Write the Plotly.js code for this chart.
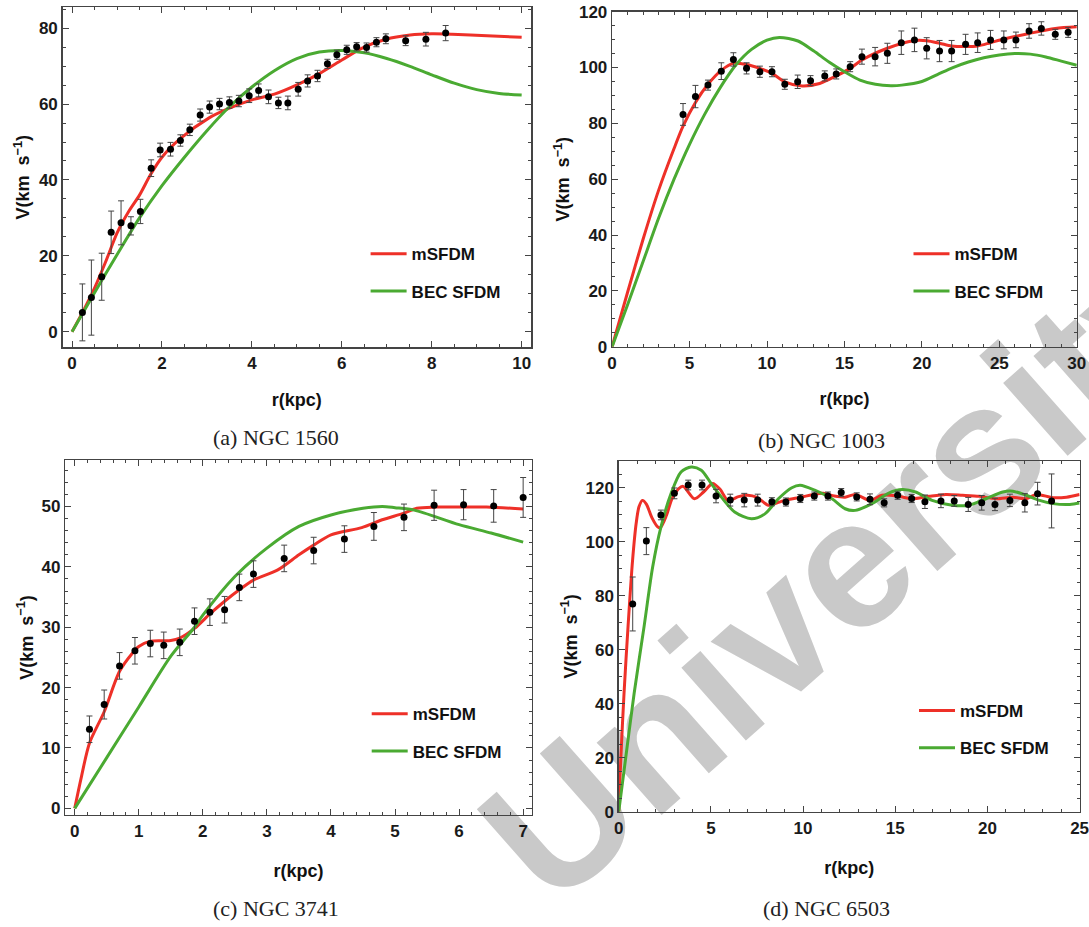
<!DOCTYPE html>
<html>
<head>
<meta charset="utf-8">
<script src="https://cdn.plot.ly/plotly-3.0.1.min.js"></script>
<style>html,body{margin:0;padding:0;background:#fff}#chart{width:1089px;height:927px}</style>
</head>
<body>
<div id="chart"></div>
<script>
// ---------------- Data: (a) NGC 1560 ----------------
const rA = [0.23,0.43,0.66,0.87,1.09,1.31,1.52,1.76,1.96,2.19,2.41,2.62,2.85,3.06,3.28,3.50,3.71,3.94,4.15,4.37,4.59,4.80,5.03,5.24,5.46,5.68,5.89,6.11,6.33,6.55,6.77,6.98,7.42,7.87,8.31];
const vA = [5.1,9.0,14.5,26.2,28.7,27.9,31.7,43.1,47.9,48.1,50.4,53.2,57.1,59.2,60.0,60.4,60.8,62.2,63.6,61.9,60.3,60.3,63.9,66.1,67.4,70.6,73.0,74.3,75.1,74.9,76.3,77.2,76.7,77.1,78.7];
const eA = [7.5,9.9,6.2,5.6,5.8,2.4,3.2,2.2,1.8,1.8,1.5,1.5,1.6,1.6,1.5,1.5,1.5,1.8,1.7,1.8,1.5,1.8,1.8,1.6,1.5,1.2,1.2,1.2,1.1,1.2,1.2,1.3,1.3,1.8,2.0];
const mA_r = [0,0.25,0.5,0.75,1.0,1.25,1.5,1.75,2.0,2.42,3.04,3.5,4.0,4.5,5.05,5.51,6.0,6.44,6.98,7.52,8.0,8.45,9.23,10];
const mA_v = [0,5.5,11.5,18.5,26,31.5,36,41.5,46,51,56.3,58.9,61.1,62.6,65.3,68.1,71.6,74.7,77.1,78.2,78.5,78.4,78.0,77.6];
const gA_r = [0,0.5,1,1.5,2,2.5,3,3.5,4,4.5,5,5.5,6,6.5,7,7.5,8,8.5,9,9.5,10];
const gA_v = [0,10.3,20.3,30,38.5,46,53,59.3,64.5,68.8,72,73.7,74.1,73.5,72,70,67.7,65.5,63.8,62.8,62.4];

// ---------------- Data: (b) NGC 1003 ----------------
const rB = [4.58,5.38,6.19,7.05,7.83,8.68,9.54,10.32,11.15,11.98,12.81,13.73,14.47,15.37,16.13,16.98,17.77,18.67,19.52,20.31,21.14,21.92,22.82,23.60,24.43,25.29,26.07,26.92,27.71,28.61,29.44];
const vB = [83.2,89.6,93.7,98.7,102.9,99.7,98.5,98.5,94.0,94.9,95.3,97.0,97.7,100.3,103.9,103.9,105.1,108.9,109.9,106.9,105.9,105.9,108.3,108.9,109.9,109.9,109.9,113.1,114.0,111.9,112.6];
const eB = [3.9,4.0,1.8,3.0,2.4,2.0,2.0,1.8,1.8,2.4,1.8,1.8,1.8,1.8,2.7,3.3,3.6,4.2,4.2,3.8,3.8,3.8,3.6,3.5,3.4,3.2,2.8,2.6,2.4,1.8,1.8];
const mB_r = [0,1,2,3,4,4.58,5.38,6.19,7.05,7.83,8.68,9.54,10.32,11.15,12.27,13.4,14.47,15.37,16.13,17.77,19.45,20.31,21.14,21.92,22.82,23.6,24.43,25.29,26.92,28.61,30];
const mB_v = [0,19.5,38.5,56,71,79,87.5,94,99,101.5,101.1,99.7,97.9,94.9,93.4,94.3,97,99.7,102.7,106.9,109.6,109.6,108.7,107.7,107.5,107.7,108.9,110.2,112.2,114.0,114.6];
const gB_r = [0,1,2,3,4,5,6,7,8,9,10,10.8,12,13,14,15,16,17,18,18.7,20,21,22,23,24,25,26,27,28,29,30];
const gB_v = [0,15,30.5,46,60,72.5,83.5,93,101,106.5,109.8,110.8,109.5,106,102,98.5,95.5,94,93.5,93.7,95,97.5,100,102,103.5,104.5,105,104.8,103.8,102.3,100.8];

// ---------------- Data: (c) NGC 3741 ----------------
const rC = [0.23,0.46,0.70,0.94,1.18,1.39,1.64,1.87,2.11,2.34,2.57,2.79,3.27,3.73,4.21,4.67,5.14,5.61,6.07,6.54,7.0];
const vC = [13.1,17.2,23.6,26.1,27.3,27.0,27.5,31.0,32.5,32.9,36.6,38.8,41.4,42.7,44.6,46.7,48.2,50.2,50.3,50.1,51.5];
const eC = [2.2,2.4,2.2,2.2,2.2,2.2,2.2,2.2,2.2,2.2,2.2,2.2,2.2,2.2,2.2,2.3,2.2,2.5,2.5,2.7,3.3];
const mC_r = [0,0.1,0.23,0.46,0.7,0.9,1.0,1.18,1.5,1.64,1.87,2.11,2.34,2.57,2.79,3.17,3.5,3.73,4.0,4.48,4.8,5.14,5.34,5.62,6.0,6.43,7.0];
const mC_v = [0,5,10.8,16,22.7,25.7,26.8,27.7,27.8,28.2,29.8,32.2,34.3,36.2,37.8,39.5,42,43.6,45.3,46.5,47.8,48.9,49.7,49.9,49.9,49.9,49.6];
const gC_r = [0,0.5,1,1.5,1.87,2,2.5,3,3.5,4,4.5,4.8,5,5.3,6,6.5,7];
const gC_v = [0,8.4,16.8,25.2,30,32,38.4,43.1,46.7,48.6,49.7,50,49.8,49.4,47,45.6,44.1];

// ---------------- Data: (d) NGC 6503 ----------------
const rD = [0.76,1.50,2.29,3.02,3.77,4.52,5.28,6.05,6.81,7.54,8.31,9.07,9.85,10.61,11.35,12.07,12.91,13.63,14.40,15.13,15.89,16.61,17.48,18.20,18.96,19.69,20.41,21.22,22.03,22.72,23.48];
const vD = [77.0,100.3,110.0,118.0,121.1,121.1,117.0,115.5,115.5,115.5,114.9,114.8,116.1,117.0,117.0,118.3,116.7,115.8,114.5,117.3,116.1,114.9,115.2,115.2,113.9,114.5,113.9,115.4,114.5,117.9,115.2];
const eD = [10,5,1.8,2,1.8,1.8,2.5,2.2,2.5,2.2,1.5,1.5,1.5,1.5,1.5,1.5,1.5,2,1.5,1.5,1.5,2.5,2.5,2,2.6,2.7,2.3,2.3,3.4,4.2,10];
const mD_r = [0,0.11,0.29,0.51,0.75,0.95,1.1,1.29,1.5,1.8,2.1,2.26,2.6,2.93,3.47,4.11,4.6,5.1,5.5,5.93,6.5,7.0,7.5,8.12,8.6,9.0,9.9,10.5,11.1,11.7,12.28,12.83,13.65,14.28,15.19,15.92,16.83,17.74,18.65,19.56,20.47,21.38,22.1,22.65,23.56,24.29,25];
const mD_v = [0,19,44,69,93,107,113,115.4,114,109,105.7,105.3,110,116.6,120.6,116,118.5,121.7,119.5,115.4,116.8,117.3,116.5,113.6,114.5,115.4,116.6,117.5,118,117,116.6,117.6,115.4,117.3,116.9,116,116.9,117.6,117.3,116.9,116,116.6,116,117.6,116.4,116.6,117.6];
const gD_r = [0,0.4,0.84,1.38,1.84,2.29,2.84,3.38,3.93,4.48,5.02,5.57,6.29,7.2,7.93,8.66,9.39,9.84,10.66,11.57,12.28,12.83,13.74,14.65,15.38,16.1,17.0,18.1,19.0,19.92,20.83,21.38,22.1,22.83,23.56,24.47,25];
const gD_v = [0,21,44,68.8,90.6,105.5,117.9,125.9,127.8,126.6,121.6,116.6,111.1,108.6,110.4,116,120.1,121,119.1,116,112.3,111.7,114.2,118.1,119.4,118.5,115.4,113.6,113.6,116,118.5,118.8,117.3,115.4,114.2,113.9,114.4];

// ---------------- Labels ----------------
const seriesNames = ['mSFDM', 'BEC SFDM'];
const captions = ['(a) NGC 1560', '(b) NGC 1003', '(c) NGC 3741', '(d) NGC 6503'];
const xTitle = 'r(kpc)';
const yTitle = 'V(km\u00A0 s<sup>\u22121</sup>)';
const watermark = 'University';

// ---------------- Styling ----------------
const W = 1089, H = 927;
const SANS = 'Liberation Sans, Arial, sans-serif';
const SERIF = 'Liberation Serif, Times New Roman, serif';
const RED = 'rgb(238,48,40)';
const GREEN = 'rgb(74,170,50)';
const FRAME = '#444';

const panels = [
  {id:'', data:[rA,vA,eA], m:[mA_r,mA_v], g:[gA_r,gA_v], leg:'legend',
   px:[62.6,531.1], py:[7.3,347.3], xr:[-0.21,10.21], yr:[-4.1,85.5], xd:2, xm:0.5, yd:20, ym:5,
   legPos:[373.6,253.3], cap:[276,437], xs:21, ys:4},
  {id:'2', data:[rB,vB,eB], m:[mB_r,mB_v], g:[gB_r,gB_v], leg:'legend2',
   px:[612.1,1076.8], py:[11.7,346.7], xr:[0,30], yr:[0,120], xd:5, xm:1, yd:20, ym:5,
   legPos:[916.5,253.3], cap:[821,440], xs:21, ys:4},
  {id:'3', data:[rC,vC,eC], m:[mC_r,mC_v], g:[gC_r,gC_v], leg:'legend3',
   px:[65.3,531.8], py:[460,815], xr:[-0.147,7.135], yr:[-1.1,57.7], xd:1, xm:0.2, yd:10, ym:2,
   legPos:[374.7,713.3], cap:[276,908], xs:24, ys:3},
  {id:'4', data:[rD,vD,eD], m:[mD_r,mD_v], g:[gD_r,gD_v], leg:'legend4',
   px:[618.7,1079.6], py:[461,811.7], xr:[0,25], yr:[0,130], xd:5, xm:1, yd:20, ym:5,
   legPos:[922,710], cap:[826,908], xs:25, ys:3}
];

const traces = [];
const layout = {
  width: W, height: H,
  margin: {l:0, r:0, t:0, b:0},
  paper_bgcolor: '#fff', plot_bgcolor: 'rgba(0,0,0,0)',
  showlegend: true,
  annotations: [],
  shapes: [],
  font: {family: SANS, color: '#111'}
};

function axisCommon(range, dtick, mdtick) {
  return {
    range: range, dtick: dtick, tick0: 0, autorange: false,
    showgrid: false, zeroline: false,
    showline: true, linecolor: FRAME, linewidth: 1.4, mirror: 'allticks',
    ticks: 'inside', ticklen: 6, tickwidth: 1, tickcolor: FRAME,
    ticklabeloverflow: 'allow',
    tickfont: {family: SANS, size: 17, weight: 'bold', color: '#1a1a1a'},
    minor: {dtick: mdtick, tick0: 0, ticks: 'inside', ticklen: 3, tickwidth: 1, tickcolor: FRAME, showgrid: false},
    fixedrange: true
  };
}

panels.forEach((p, i) => {
  const xa = 'x' + p.id, ya = 'y' + p.id;
  const xKey = 'xaxis' + p.id, yKey = 'yaxis' + p.id;
  layout[xKey] = Object.assign(axisCommon(p.xr, p.xd, p.xm), {
    domain: [p.px[0] / W, p.px[1] / W], anchor: ya,
    title: {text: xTitle, font: {family: SANS, size: 18, weight: 'bold', color: '#111'}, standoff: p.xs}
  });
  layout[yKey] = Object.assign(axisCommon(p.yr, p.yd, p.ym), {
    domain: [1 - p.py[1] / H, 1 - p.py[0] / H], anchor: xa,
    title: {text: yTitle, font: {family: SANS, size: 18, weight: 'bold', color: '#111'}, standoff: p.ys}
  });

  traces.push({
    type: 'scatter', mode: 'lines', x: p.m[0], y: p.m[1], xaxis: xa, yaxis: ya,
    name: seriesNames[0], legend: p.leg, legendgroup: 'm' + i,
    line: {color: RED, width: 3, shape: 'spline', smoothing: 0.8}
  });
  traces.push({
    type: 'scatter', mode: 'lines', x: p.g[0], y: p.g[1], xaxis: xa, yaxis: ya,
    name: seriesNames[1], legend: p.leg, legendgroup: 'g' + i,
    line: {color: GREEN, width: 3, shape: 'spline', smoothing: 0.8}
  });
  traces.push({
    type: 'scatter', mode: 'markers', x: p.data[0], y: p.data[1], xaxis: xa, yaxis: ya,
    showlegend: false, name: 'data',
    marker: {color: '#000', size: 7},
    error_y: {type: 'data', array: p.data[2], visible: true, color: '#444', thickness: 1, width: 3}
  });

  layout[p.leg] = {
    x: (p.legPos[0] - 8) / W, y: 1 - (p.legPos[1] - 17) / H,
    xanchor: 'left', yanchor: 'top',
    bgcolor: 'rgba(0,0,0,0)', borderwidth: 0,
    tracegroupgap: 12, itemwidth: 36,
    font: {family: SANS, size: 17, weight: 'bold', color: '#111'}
  };

  layout.annotations.push({
    text: captions[i], xref: 'paper', yref: 'paper',
    x: p.cap[0] / W, y: 1 - p.cap[1] / H, xanchor: 'center', yanchor: 'middle',
    showarrow: false, font: {family: SERIF, size: 22, color: '#222'}
  });
});

// Watermark drawn beneath the plots (shape label in the lower layer)
const wmC = [832, 556];
layout.shapes.push({
  type: 'rect', xref: 'paper', yref: 'paper', layer: 'below',
  x0: (wmC[0] - 1) / W, x1: (wmC[0] + 1) / W, y0: 1 - (wmC[1] + 1) / H, y1: 1 - (wmC[1] - 1) / H,
  line: {width: 0}, fillcolor: 'rgba(0,0,0,0)',
  label: {text: watermark, textangle: -41.5, textposition: 'middle center',
          font: {family: SANS, size: 184, weight: 'bold', color: '#c9c9c9'}}
});

Plotly.newPlot('chart', traces, layout, {staticPlot: true, displayModeBar: false});
</script>
</body>
</html>
